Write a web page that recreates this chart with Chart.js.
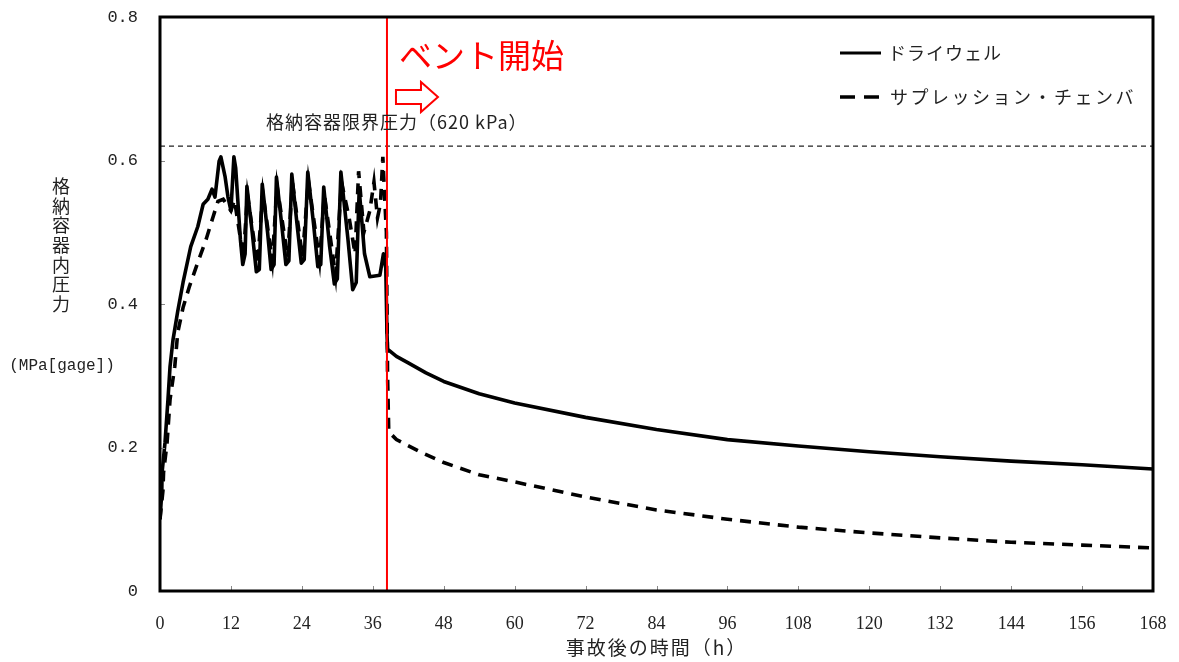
<!DOCTYPE html>
<html lang="ja">
<head>
<meta charset="utf-8">
<script src="https://cdn.jsdelivr.net/npm/chart.js@4.4.1/dist/chart.umd.min.js"></script>
<style>
  html, body { margin: 0; padding: 0; background: #fff; }
  #wrap { width: 1179px; height: 662px; position: relative; }
</style>
</head>
<body>
<div id="wrap"><canvas id="chart"></canvas></div>
<script>
// ドライウェル圧力 (MPa[gage])
const dwTime = [0, 0.3, 0.35, 0.85, 1.35, 1.7, 2.2, 3.0, 3.9, 5.2, 6.4, 7.3, 8.1, 8.8, 9.3, 10.0, 10.3, 11.0, 11.5, 12.0, 12.5, 12.8,
  13.6, 14.0, 14.4, 14.7, 15.6, 16.3, 16.8, 17.3, 18.2, 18.8, 19.3, 19.7, 20.6, 21.3, 21.8, 22.3, 23.2, 23.9, 24.4, 25.0, 26.0, 26.7, 27.2, 27.7,
  28.7, 29.5, 30.0, 30.6, 31.8, 32.6, 33.2, 33.7, 34.6, 35.5, 37.2, 37.8, 38.2, 38.4,
  38.5, 40, 42, 45, 48, 54, 60, 72, 84, 96, 108, 120, 132, 144, 156, 168];
const dwPressure = [0.10, 0.137, 0.165, 0.207, 0.267, 0.313, 0.35, 0.39, 0.43, 0.48, 0.508, 0.539, 0.546, 0.56, 0.549, 0.599, 0.605, 0.578, 0.549, 0.53, 0.605, 0.59,
  0.49, 0.455, 0.47, 0.564, 0.5, 0.445, 0.448, 0.567, 0.5, 0.448, 0.455, 0.577, 0.51, 0.455, 0.46, 0.581, 0.51, 0.457, 0.462, 0.584, 0.51, 0.452, 0.455, 0.563,
  0.48, 0.428, 0.435, 0.584, 0.49, 0.42, 0.43, 0.56, 0.47, 0.438, 0.44, 0.47, 0.45, 0.36,
  0.337, 0.327, 0.318, 0.304, 0.292, 0.275, 0.262, 0.242, 0.225, 0.211, 0.202, 0.194, 0.187, 0.181, 0.176, 0.170];

// サプレッション・チェンバ圧力
const spTime = [0, 0.5, 0.6, 1.2, 1.7, 2.5, 3.0, 3.9, 5.0, 6.4, 7.8, 9.0, 9.8, 10.7, 12.0, 12.6,
  14.1, 14.8, 16.5, 17.4, 19.0, 19.8, 21.6, 22.4, 24.1, 25.1, 27.0, 27.8, 29.7, 30.7, 32.0, 33.0, 33.6, 34.5, 35.5, 36.2, 36.8, 37.3, 37.7, 38.0, 38.3,
  38.5, 38.7, 40, 44, 48, 54, 60, 72, 84, 96, 108, 120, 132, 144, 156, 168];
const spPressure = [0.10, 0.14, 0.165, 0.207, 0.267, 0.313, 0.36, 0.395, 0.425, 0.458, 0.49, 0.522, 0.543, 0.546, 0.53, 0.545,
  0.465, 0.552, 0.455, 0.555, 0.46, 0.565, 0.465, 0.57, 0.465, 0.572, 0.46, 0.553, 0.44, 0.57, 0.52, 0.47, 0.585, 0.5, 0.53, 0.57, 0.52, 0.54, 0.605, 0.55, 0.5,
  0.3, 0.222, 0.211, 0.194, 0.179, 0.162, 0.152, 0.131, 0.113, 0.100, 0.089, 0.081, 0.074, 0.068, 0.064, 0.060];

const ventTime = 38.4;        // ベント開始 (h)
const limitPressure = 0.62;   // 格納容器限界圧力 620 kPa
const xTicks = [0, 12, 24, 36, 48, 60, 72, 84, 96, 108, 120, 132, 144, 156, 168];
const yTicks = [0, 0.2, 0.4, 0.6, 0.8];

const seriesNames = ['ドライウェル', 'サプレッション・チェンバ'];

const jp = '"Noto Sans CJK JP", sans-serif';

function pts(xs, ys) { return xs.map((x, i) => ({ x: x, y: ys[i] })); }

const decor = {
  id: 'decor',
  afterDatasetsDraw(chart) {
    const { ctx, chartArea: a, scales: { x, y } } = chart;
    ctx.save();

    // inward ticks
    ctx.strokeStyle = '#888';
    ctx.lineWidth = 1;
    xTicks.forEach(v => {
      const px = Math.round(x.getPixelForValue(v)) + 0.5;
      ctx.beginPath(); ctx.moveTo(px, a.bottom); ctx.lineTo(px, a.bottom - 5); ctx.stroke();
    });
    yTicks.forEach(v => {
      const py = Math.round(y.getPixelForValue(v)) + 0.5;
      ctx.beginPath(); ctx.moveTo(a.left, py); ctx.lineTo(a.left + 5, py); ctx.stroke();
    });

    // frame
    ctx.strokeStyle = '#000';
    ctx.lineWidth = 3;
    ctx.strokeRect(a.left, a.top, a.right - a.left, a.bottom - a.top);

    // limit label
    ctx.fillStyle = '#222';
    ctx.font = '18px ' + jp;
    ctx.letterSpacing = '1px';
    ctx.textBaseline = 'middle';
    ctx.textAlign = 'left';
    ctx.fillText('格納容器限界圧力（620 kPa）', 266, y.getPixelForValue(limitPressure) - 24);

    // vent label + arrow
    const vx = x.getPixelForValue(ventTime);
    ctx.letterSpacing = '0px';
    ctx.fillStyle = '#ff0000';
    ctx.font = '33px ' + jp;
    ctx.fillText('ベント開始', vx + 12, 55);

    ctx.strokeStyle = '#ff0000';
    ctx.lineWidth = 2;
    ctx.fillStyle = '#fff';
    const ax = vx + 9, ay = 97;
    ctx.beginPath();
    ctx.moveTo(ax, ay - 7);
    ctx.lineTo(ax + 25, ay - 7);
    ctx.lineTo(ax + 25, ay - 15);
    ctx.lineTo(ax + 42, ay);
    ctx.lineTo(ax + 25, ay + 15);
    ctx.lineTo(ax + 25, ay + 7);
    ctx.lineTo(ax, ay + 7);
    ctx.closePath();
    ctx.fill();
    ctx.stroke();

    // legend
    ctx.fillStyle = '#222';
    ctx.font = '18px ' + jp;
    ctx.strokeStyle = '#000';
    ctx.lineWidth = 3;
    ctx.beginPath(); ctx.moveTo(840, 53); ctx.lineTo(881, 53); ctx.stroke();
    ctx.letterSpacing = '1px';
    ctx.fillText(seriesNames[0], 888, 53);
    ctx.lineWidth = 3.5;
    ctx.beginPath(); ctx.moveTo(840, 97); ctx.lineTo(855, 97); ctx.moveTo(864, 97); ctx.lineTo(879, 97); ctx.stroke();
    ctx.letterSpacing = '2.5px';
    ctx.fillText(seriesNames[1], 890, 97);

    // axis titles
    ctx.letterSpacing = '0px';
    ctx.fillStyle = '#222';
    ctx.font = '18px ' + jp;
    ctx.textAlign = 'center';
    const yTitle = '格納容器内圧力';
    [...yTitle].forEach((ch, i) => ctx.fillText(ch, 61, 186 + i * 19.7));
    ctx.font = '16px "Liberation Mono", monospace';
    ctx.fillText('(MPa[gage])', 62, 366);
    ctx.font = '19px ' + jp;
    ctx.letterSpacing = '2px';
    ctx.fillText('事故後の時間（h）', (a.left + a.right) / 2, 648);

    ctx.restore();
  }
};

new Chart(document.getElementById('chart'), {
  type: 'line',
  data: {
    datasets: [
      {
        label: 'vent',
        data: [{ x: ventTime, y: 0 }, { x: ventTime, y: 0.8 }],
        borderColor: '#ff0000', borderWidth: 2, pointRadius: 0, order: 0
      },
      {
        label: seriesNames[0],
        data: pts(dwTime, dwPressure),
        borderColor: '#000', borderWidth: 3.6, pointRadius: 0, tension: 0, borderJoinStyle: 'round', order: 1
      },
      {
        label: seriesNames[1],
        data: pts(spTime, spPressure),
        borderColor: '#000', borderWidth: 3.6, borderDash: [11, 8], pointRadius: 0, tension: 0, order: 2
      },
      {
        label: 'limit',
        data: [{ x: 0, y: limitPressure }, { x: 168, y: limitPressure }],
        borderColor: '#222', borderWidth: 1.2, borderDash: [5, 4], pointRadius: 0, order: 3
      }
    ]
  },
  options: {
    responsive: true,
    maintainAspectRatio: false,
    animation: false,
    layout: { padding: { left: 0, top: 17, right: 26, bottom: 0 } },
    plugins: { legend: { display: false }, tooltip: { enabled: false } },
    scales: {
      x: {
        type: 'linear', min: 0, max: 168,
        afterFit(s) { s.height = 71; s.paddingLeft = 0; s.paddingRight = 0; },
        afterBuildTicks(s) { s.ticks = xTicks.map(v => ({ value: v })); },
        grid: { display: false },
        border: { display: false },
        ticks: { color: '#222', padding: 14, font: { family: '"Liberation Serif", serif', size: 18 }, maxRotation: 0 }
      },
      y: {
        min: 0, max: 0.8,
        afterFit(s) { s.width = 160; s.paddingTop = 0; s.paddingBottom = 0; },
        afterBuildTicks(s) { s.ticks = yTicks.map(v => ({ value: v })); },
        grid: { display: false },
        border: { display: false },
        ticks: {
          color: '#222', padding: 14,
          font: { family: '"Liberation Mono", monospace', size: 17 },
          callback: v => v === 0 ? '0' : v.toFixed(1)
        }
      }
    }
  },
  plugins: [decor]
});
</script>
</body>
</html>
